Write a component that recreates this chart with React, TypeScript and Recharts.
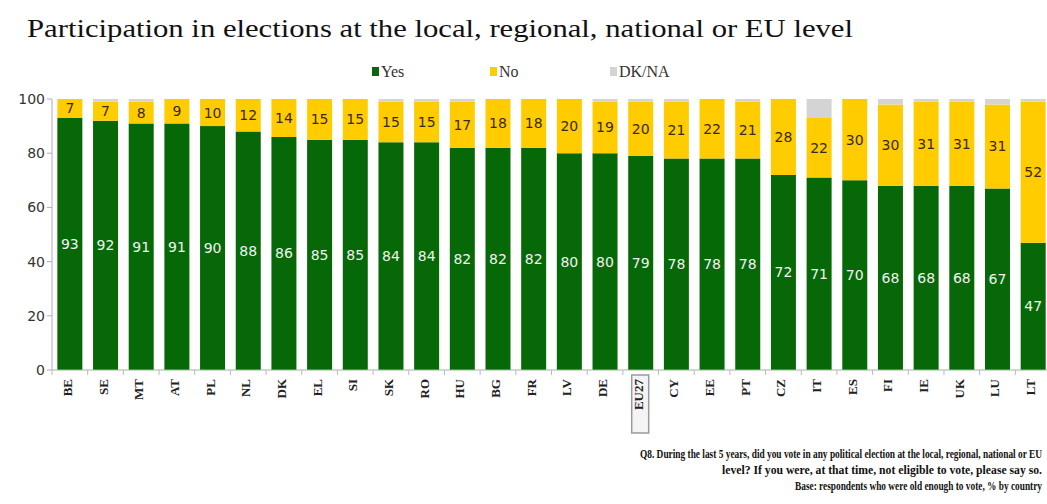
import { BarChart, Bar, XAxis, YAxis, LabelList } from 'recharts';

const countries = ['BE', 'SE', 'MT', 'AT', 'PL', 'NL', 'DK', 'EL', 'SI', 'SK', 'RO', 'HU', 'BG', 'FR', 'LV', 'DE', 'EU27', 'CY', 'EE', 'PT', 'CZ', 'IT', 'ES', 'FI', 'IE', 'UK', 'LU', 'LT'];
const yesValues = [93, 92, 91, 91, 90, 88, 86, 85, 85, 84, 84, 82, 82, 82, 80, 80, 79, 78, 78, 78, 72, 71, 70, 68, 68, 68, 67, 47];
const noValues = [7, 7, 8, 9, 10, 12, 14, 15, 15, 15, 15, 17, 18, 18, 20, 19, 20, 21, 22, 21, 28, 22, 30, 30, 31, 31, 31, 52];
const dkValues = [0, 1, 1, 0, 0, 0, 0, 0, 0, 1, 1, 1, 0, 0, 0, 1, 1, 1, 0, 1, 0, 7, 0, 2, 1, 1, 2, 1];
const yTicks = [0, 20, 40, 60, 80, 100];

const rows = countries.map((c, i) => ({ country: c, yes: yesValues[i], no: noValues[i], dk: dkValues[i] }));

const GREEN = '#076807';
const YELLOW = '#ffcc00';
const GREY = '#d4d4d4';
const SERIF = '"Liberation Serif", "DejaVu Serif", serif';
const VALUE_FONT = '"DejaVu Sans", sans-serif';
const BAND = 999 / 28;

// footnote lines are very condensed in the original, so squeeze them horizontally
const NOTE_SCALE = 0.72;

function CountryTick({ x, payload }: any) {
  const isEU = payload.value === 'EU27';
  return (
    <g>
      <line x1={x - BAND / 2} x2={x - BAND / 2} y1={370} y2={375} stroke="#c8b4b4" />
      {isEU && <rect x={x - 9} y={375} width={17} height={58} fill="#f4f4f4" stroke="#9a9a9a" strokeWidth={1.5} />}
      <text
        transform={`translate(${x + 2},${379}) rotate(-90)`}
        textAnchor="end"
        fontSize={13}
        fontWeight="bold"
        fontFamily={SERIF}
        fill="#222"
      >
        {payload.value}
      </text>
    </g>
  );
}

function NoteLine({ right, y, width, children }: any) {
  return (
    <g transform={`translate(${right - width},${y}) scale(${NOTE_SCALE},1)`}>
      <text x={0} y={0} textLength={width / NOTE_SCALE} lengthAdjust="spacingAndGlyphs">
        {children}
      </text>
    </g>
  );
}

export default function App() {
  return (
    <div style={{ position: 'absolute', left: 0, top: 0, width: 1047, height: 504, overflow: 'hidden', background: '#fff' }}>
      <div style={{ position: 'absolute', left: 0, top: 0 }}>
        <BarChart width={1051} height={504} data={rows} margin={{ top: 99, right: 0, bottom: 0, left: 0 }} barCategoryGap="15%">
          <XAxis
            dataKey="country"
            height={134}
            interval={0}
            tickLine={false}
            axisLine={{ stroke: '#9fb89f' }}
            tick={<CountryTick />}
          />
          <YAxis
            domain={[0, 100]}
            ticks={yTicks}
            width={52}
            tickSize={5}
            tickLine={{ stroke: '#b0a8c8' }}
            axisLine={{ stroke: '#b0a8c8' }}
            tick={{ fontSize: 14, fill: '#333', fontFamily: VALUE_FONT }}
          />
          <Bar dataKey="yes" stackId="a" fill={GREEN} isAnimationActive={false}>
            <LabelList dataKey="yes" position="center" fill="#f2f2f2" fontSize={14} fontFamily={VALUE_FONT} />
          </Bar>
          <Bar dataKey="no" stackId="a" fill={YELLOW} isAnimationActive={false}>
            <LabelList dataKey="no" position="center" fill="#3a2a10" fontSize={14} fontFamily={VALUE_FONT} />
          </Bar>
          <Bar dataKey="dk" stackId="a" fill={GREY} isAnimationActive={false} />
        </BarChart>
      </div>
      <svg width={1047} height={504} style={{ position: 'absolute', left: 0, top: 0, pointerEvents: 'none' }}>
        <text x={27} y={37} fontSize={26} fontFamily={SERIF} fill="#111" textLength={826} lengthAdjust="spacingAndGlyphs">
          Participation in elections at the local, regional, national or EU level
        </text>
        <rect x={372} y={67} width={7} height={9} fill={GREEN} />
        <text x={381} y={77} fontSize={16} fontFamily={SERIF} fill="#333">Yes</text>
        <rect x={490} y={67} width={7} height={9} fill={YELLOW} />
        <text x={499} y={77} fontSize={16} fontFamily={SERIF} fill="#333">No</text>
        <rect x={610} y={67} width={7} height={9} fill={GREY} />
        <text x={619} y={77} fontSize={16} fontFamily={SERIF} fill="#333">DK/NA</text>
        <g fontSize={12} fontWeight="bold" fontFamily={SERIF} fill="#111">
          <NoteLine right={1042} y={458} width={402}>
            Q8. During the last 5 years, did you vote in any political election at the local, regional, national or EU
          </NoteLine>
          <NoteLine right={1042} y={474} width={320}>
            level? If you were, at that time, not eligible to vote, please say so.
          </NoteLine>
          <NoteLine right={1042} y={490} width={247}>
            Base: respondents who were old enough to vote, % by country
          </NoteLine>
        </g>
      </svg>
    </div>
  );
}
